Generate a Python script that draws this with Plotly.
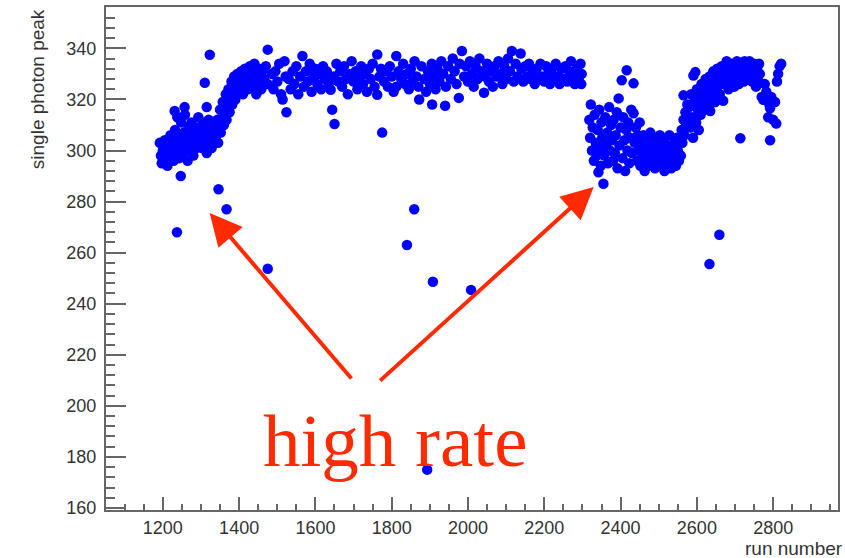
import plotly.graph_objects as go

# ---- data (run number, single photon peak) ----
seg_a = [(1192,303),(1195,298),(1197,295),(1200,300),(1203,296),(1205,304),(1208,301),(1210,297),(1212,294),(1215,299),
         (1218,302),(1220,306),(1222,298),(1225,301),(1228,296),(1230,304),(1232,308),(1235,300),(1238,313),(1240,303),
         (1243,297),(1245,306),(1248,311),(1250,302),(1253,299),(1255,307),(1258,314),(1260,304),(1263,300),(1265,296),
         (1268,309),(1270,305),(1273,302),(1275,311),(1278,307),(1280,298),(1283,304),(1285,309),(1288,301),(1290,306),
         (1293,313),(1295,303),(1298,308),(1300,305),(1303,301),(1305,311),(1308,306),(1310,303),(1313,309),(1315,299),
         (1318,305),(1320,312),(1323,308),(1325,304),(1328,301),(1330,310),(1333,307),(1231,315.5),(1257,317),
         (1310,326.5),(1315,317),(1323,337.5)]
seg_a2 = [(1340,306),(1343,312),(1345,303),(1348,309),(1350,316),(1352,307),(1355,313),(1357,319),(1360,310),(1362,316),
          (1365,322),(1367,312),(1370,318),(1372,324),(1375,315),(1377,321),(1380,327),(1382,318),(1385,324),(1387,329),
          (1390,320),(1392,326),(1395,330),(1398,323),(1400,328),(1403,325),(1405,331),(1408,327),(1410,322),(1413,329),
          (1415,332),(1418,326),(1420,330),(1423,324),(1425,328),(1428,333),(1430,327),(1433,331),(1435,325),(1438,329),
          (1440,334),(1443,328),(1445,322),(1448,330),(1450,326),(1453,332),(1455,329),(1458,324),(1460,331),
          (1465,328),(1470,333),(1475,326),(1475,339.5),(1485,330),(1490,324),(1495,331),(1500,327),(1505,334),
          (1510,322),(1514,320),(1519,335),(1524,315),(1522,329)]
seg_b = [(1530,328),(1535,324),(1540,331),(1545,326),(1550,333),(1555,322),(1560,329),(1566,337),(1570,325),(1575,331),
         (1580,327),(1585,334),(1590,323),(1595,329),(1600,332),(1605,326),(1610,330),(1615,324),(1620,333),(1625,328),
         (1630,331),(1635,326),(1640,323.8),(1644,316),(1650,310.4),(1648,329),(1655,334),(1660,327),(1665,331),(1670,325),
         (1675,333),(1680,328),(1685,322),(1690,330),(1695,335),(1700,327),(1705,331),(1710,324),(1715,329),(1720,333),
         (1725,326),(1730,330),(1735,323),(1740,332),(1745,328),(1750,334),(1755,325),(1762,337.6),(1762,321.8),(1768,329),
         (1775,307),(1772,332),(1780,327),(1785,331),(1790,325),(1795,333),(1800,329),(1805,323),(1812,337),(1812,325),
         (1818,331),(1825,328),(1830,334),(1835,326),(1840,330),(1845,324),(1850,332),(1855,327),(1860,335),(1865,329),
         (1872,320),(1870,325),(1878,333),(1885,328),(1890,323),(1895,331),(1900,326),(1906,318),(1905,334),(1910,329),
         (1915,324),(1920,332),(1925,327),(1930,335),(1935,330),(1940,317.5),(1942,325),(1948,333),(1955,328),(1960,336),
         (1965,331),(1970,326),(1976,320.6),(1978,334),(1984,339),(1990,329),(1995,333),(2000,327),(2005,335),(2010,330),
         (2015,325),(2020,333),(2025,328),(2030,336),(2035,331),(2042,322.6),(2045,329),(2050,334),(2055,327),(2060,331),
         (2065,325),(2070,333),(2075,329),(2080,335),(2085,330),(2090,326),(2095,333),(2100,328),(2105,336),(2110,331),
         (2115,339),(2120,327),(2125,334),(2130,329),(2138,338),(2140,332),(2145,327),(2150,333),(2155,329),(2160,334),
         (2165,328),(2170,331),(2175,326),(2180,332),(2185,328),(2190,334),(2195,329),(2200,327),(2205,333),(2210,330),
         (2215,326),(2220,332),(2225,328),(2230,334),(2235,329),(2240,326),(2245,332),(2250,328),(2255,333),(2260,327),
         (2265,331),(2270,335),(2275,329),(2280,326),(2285,332),(2290,328),(2295,334),(2298,330),(2297,326)]
seg_c = [(2318,312),(2320,305),(2322,318),(2325,300),(2327,309),(2330,296),(2332,314),(2335,303),(2337,298),(2340,308),
         (2342,291.5),(2344,316),(2346,301),(2348,294),(2350,311),(2352,305),(2355,287),(2357,298),(2360,313),(2362,302),
         (2365,307),(2367,295),(2370,317),(2372,300),(2375,310),(2377,304),(2380,296),(2382,312),(2385,299),(2387,306),
         (2390,315),(2392,293),(2395,320.4),(2397,302),(2400,309),(2403,327.5),(2405,297),(2407,313),(2410,304),(2412,292),
         (2416,331.4),(2415,308),(2418,300),(2420,311),(2423,295),(2425,305),(2428,316),(2430,299),(2434,326.3),(2434,314.6),
         (2437,303),(2440,309),(2443,296),(2445,306),(2448,300),(2450,311),(2452,294),(2455,303),(2458,298),(2460,306),
         (2463,292),(2465,301),(2468,297),(2470,304),(2473,294),(2475,300),(2478,307),(2480,296),(2483,302),(2485,298),
         (2488,305),(2490,293),(2493,300),(2495,296),(2498,303),(2500,299),(2503,306),(2505,294),(2508,301),(2510,297),
         (2513,304),(2515,292),(2518,299),(2520,302),(2523,295),(2525,300),(2528,306),(2530,297),(2533,293),(2535,301),
         (2538,296),(2540,303),(2543,299),(2545,294),(2548,305),(2550,300),(2553,296),(2555,303),(2558,298),(2560,308),
         (2562,303),(2565,312),(2567,306),(2570,315),(2572,310),(2575,318),(2578,313),(2565,321.6),(2591,329.4)]
seg_d = [(2580,317),(2583,309),(2585,322),(2588,313),(2590,305),(2593,319),(2596,330.7),(2598,311),(2600,324),(2603,316),
         (2605,308),(2608,321),(2610,314),(2612,326),(2615,318),(2618,323),(2620,316),(2623,328),(2625,320),(2628,325),
         (2630,317),(2633,329),(2635,315.5),(2638,322),(2640,327),(2643,331),(2645,324),(2648,319),(2650,328),(2653,332),
         (2655,325),(2658,330),(2660,322),(2663,327),(2665,333),(2669,319.5),(2670,329),(2673,326),(2675,331),(2678,335),
         (2680,328),(2683,324),(2685,332),(2688,329),(2690,334),(2693,327),(2695,331),(2698,325),(2700,333),(2703,329),
         (2705,335),(2708,330),(2710,326),(2714,304.8),(2713,333),(2715,329),(2718,334),(2720,331),(2723,327),(2725,335),
         (2728,330),(2730,333),(2733,328),(2735,332),(2738,335),(2740,329),(2743,333),(2745,327),(2748,331),(2750,334),
         (2753,329),(2755,325),(2758,332),(2760,328),(2763,334),(2765,330),(2770,321),(2774,319.9),(2778,326),(2782,323),
         (2787,313),(2790,318),(2792,316.5),(2792,304),(2795,321),(2800,312),(2805,319),(2808,310.6),(2810,327),(2813,330),
         (2817,333),(2821,334)]
outliers = [(1237,268),(1247,290),(1346,284.8),(1367,277),(1475,253.7),(1840,263),(1859,277),(1893,175),
            (1908,248.6),(2008,245.4),(2633,255.5),(2659,267)]

points = seg_a + seg_a2 + seg_b + seg_c + seg_d + outliers
run_number = [p[0] for p in points]
photon_peak = [p[1] for p in points]

x_range = [1051, 2970]
y_range = [159.2, 356.2]

W, H = 845, 558
L, R, T, B = 106, 5, 7, 48
pw, ph = W - L - R, H - T - B

def px(xp):
    return (xp - L) / pw

def py(yp):
    return (H - B - yp) / ph

fig = go.Figure()
fig.add_trace(go.Scatter(
    x=run_number, y=photon_peak, mode="markers",
    marker=dict(color="#0000ff", size=10.5, line=dict(width=0)),
    showlegend=False, cliponaxis=True))

axis_font = dict(family="Liberation Sans, Arial, sans-serif", size=18, color="#333333")
title_font = dict(family="Liberation Sans, Arial, sans-serif", size=19, color="#333333")

fig.update_layout(
    width=W, height=H,
    margin=dict(l=L, r=R, t=T, b=B, pad=0),
    paper_bgcolor="white", plot_bgcolor="white",
    xaxis=dict(range=x_range, showgrid=False, zeroline=False,
               showline=True, linecolor="#666666", linewidth=2, mirror=True,
               tickmode="linear", tick0=1200, dtick=200,
               ticks="inside", ticklen=13, tickwidth=1.5, tickcolor="#666666",
               minor=dict(dtick=50, ticks="inside", ticklen=6, tickwidth=1.5, tickcolor="#666666"),
               tickfont=axis_font),
    yaxis=dict(range=y_range, showgrid=False, zeroline=False,
               showline=True, linecolor="#666666", linewidth=2, mirror=True,
               tickmode="linear", tick0=160, dtick=20,
               ticks="inside", ticklen=20, tickwidth=1.5, tickcolor="#666666",
               minor=dict(dtick=4, ticks="inside", ticklen=9, tickwidth=1.5, tickcolor="#666666"),
               tickfont=axis_font, ticklabelstandoff=4),
)

annotations = [
    dict(text="single photon peak", textangle=-90, xref="paper", yref="paper",
         x=px(37), y=py(7), xanchor="center", yanchor="top", showarrow=False,
         font=title_font),
    dict(text="run number", xref="paper", yref="paper",
         x=px(847), y=py(548), xanchor="right", yanchor="middle", showarrow=False,
         font=title_font),
    dict(text="high rate", xref="paper", yref="paper",
         x=px(396), y=py(440), xanchor="center", yanchor="middle", showarrow=False,
         font=dict(family="Liberation Serif, Times New Roman, serif", size=75, color="#ff2a00")),
    # arrows (tip at x,y; tail offset ax,ay in pixels)
    dict(text="", xref="paper", yref="paper", x=px(210), y=py(213),
         ax=353 - 210, ay=380 - 213, axref="pixel", ayref="pixel",
         showarrow=True, arrowhead=2, arrowsize=1.6, arrowwidth=4, arrowcolor="#ff2a00", standoff=0),
    dict(text="", xref="paper", yref="paper", x=px(595), y=py(187),
         ax=380 - 595, ay=382 - 187, axref="pixel", ayref="pixel",
         showarrow=True, arrowhead=2, arrowsize=1.6, arrowwidth=4, arrowcolor="#ff2a00", standoff=0),
]
fig.update_layout(annotations=annotations)

fig.write_html("out.html")
